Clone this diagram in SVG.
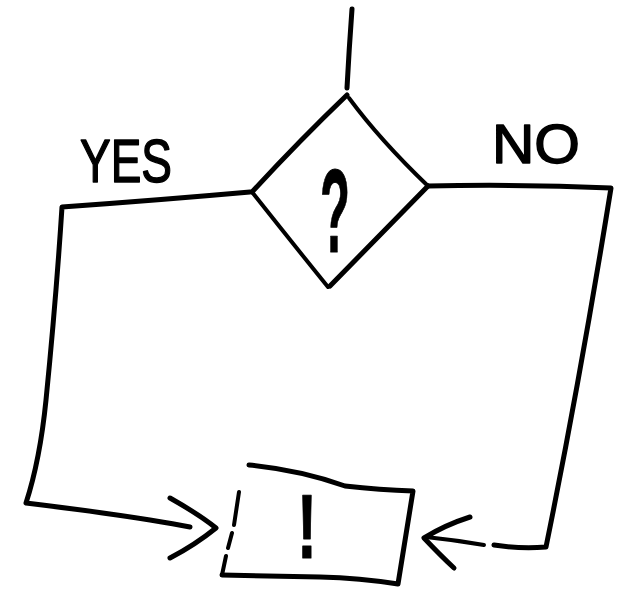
<svg xmlns="http://www.w3.org/2000/svg" width="624" height="589" viewBox="0 0 624 589">
<style>
.ln{fill:none;stroke:#000;stroke-width:5;stroke-linecap:round;stroke-linejoin:round}
.th{stroke-width:4}
.lbl{font-family:"Liberation Sans","DejaVu Sans",sans-serif;fill:#000;stroke:#000;stroke-width:1.5;stroke-linejoin:round}
.sym{font-weight:bold;stroke-width:1}
</style>
<rect width="624" height="589" fill="#fff"/>
<g id="connectors">
<path class="ln" d="M352,9 Q349,50 347,88"/>
<path class="ln" d="M250,192 Q160,200 62,207 Q56,300 46,400 Q40,460 26,503 Q100,512 150,520 Q175,524 190,527"/>
<path class="ln" d="M170,498 Q200,515 216,528 Q195,545 170,558"/>
<path class="ln" d="M428,186 Q520,184 611,188 Q580,380 546,547 Q520,549 494,545"/>
<path class="ln th" d="M484,545 Q455,540 426,537"/>
<path class="ln" d="M470,517 Q445,525 424,538 Q440,555 454,568"/>
</g>
<g id="decision">
<path class="ln" d="M347,95 Q300,140 252,192"/>
<path class="ln th" d="M349,98 Q380,140 428,186"/>
<path class="ln th" d="M252,192 Q290,240 328,287"/>
<path class="ln" d="M330,286 Q380,235 428,186"/>
<text class="lbl sym" x="320" y="252" font-size="118" textLength="30" lengthAdjust="spacingAndGlyphs">?</text>
</g>
<g id="action">
<path class="ln" d="M249,465 Q300,470 345,486 Q380,490 413,491 Q405,540 398,584 Q360,578 320,577 Q270,576 222,575"/>
<path class="ln th" d="M239,492 L234,525 M232,533 L228,548 M226,556 L222,575"/>
<text class="lbl sym" x="297" y="558" font-size="90" textLength="20" lengthAdjust="spacingAndGlyphs">!</text>
</g>
<g id="labels">
<text class="lbl" x="80" y="182" font-size="62" textLength="92" lengthAdjust="spacingAndGlyphs">YES</text>
<text class="lbl" x="492" y="163" font-size="56" textLength="88" lengthAdjust="spacingAndGlyphs">NO</text>
</g>
</svg>
